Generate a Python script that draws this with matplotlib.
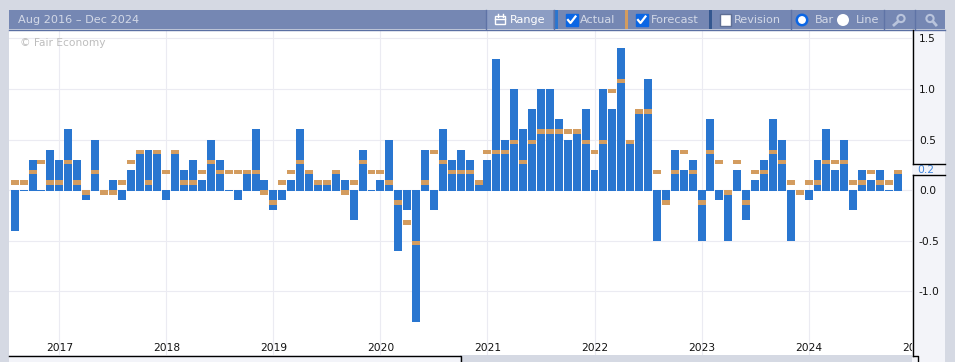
import numpy as np
import matplotlib
matplotlib.use('Agg')
import matplotlib.pyplot as plt
from matplotlib.patches import Rectangle, Circle

# monthly values, Aug 2016 to Nov 2024
actual = [-0.4, 0.0, 0.3, 0.0, 0.4,
          0.3, 0.6, 0.3, -0.1, 0.5, 0.0, 0.1, -0.1, 0.2, 0.4, 0.4, 0.4,
          -0.1, 0.4, 0.2, 0.3, 0.1, 0.5, 0.3, 0.0, -0.1, 0.2, 0.6, 0.1,
          -0.2, -0.1, 0.1, 0.6, 0.2, 0.1, 0.1, 0.2, 0.1, -0.3, 0.4, 0.0,
          0.1, 0.5, -0.6, -0.2, -1.3, 0.4, -0.2, 0.6, 0.3, 0.4, 0.3, 0.1,
          0.3, 1.3, 0.5, 1.0, 0.6, 0.8, 1.0, 1.0, 0.7, 0.5, 0.6, 0.8,
          0.2, 1.0, 0.8, 1.4, 0.5, 0.8, 1.1, -0.5, -0.1, 0.4, 0.2, 0.3,
          -0.5, 0.7, -0.1, -0.5, 0.2, -0.3, 0.1, 0.3, 0.7, 0.5, -0.5, 0.0,
          -0.1, 0.3, 0.6, 0.2, 0.5, -0.2, 0.2, 0.1, 0.2, 0.0, 0.2]
forecast = [0.1, 0.1, 0.2, 0.3, 0.1,
            0.1, 0.3, 0.1, 0.0, 0.2, 0.0, 0.0, 0.1, 0.3, 0.4, 0.1, 0.4,
            0.2, 0.4, 0.1, 0.1, 0.2, 0.3, 0.2, 0.2, 0.2, 0.2, 0.2, 0.0,
            -0.1, 0.1, 0.2, 0.3, 0.2, 0.1, 0.1, 0.2, 0.0, 0.1, 0.3, 0.2,
            0.2, 0.1, -0.1, -0.3, -0.5, 0.1, 0.4, 0.3, 0.2, 0.2, 0.2, 0.1,
            0.4, 0.4, 0.4, 0.5, 0.3, 0.5, 0.6, 0.6, 0.6, 0.6, 0.6, 0.5,
            0.4, 0.5, 1.0, 1.1, 0.5, 0.8, 0.8, 0.2, -0.1, 0.2, 0.4, 0.2,
            -0.1, 0.4, 0.3, 0.0, 0.3, -0.1, 0.2, 0.2, 0.4, 0.3, 0.1, 0.0,
            0.1, 0.1, 0.3, 0.3, 0.3, 0.1, 0.1, 0.2, 0.1, 0.1, 0.2]
years = ['2017', '2018', '2019', '2020', '2021', '2022', '2023', '2024']
yticks = [-1.0, -0.5, 0.0, 0.5, 1.0, 1.5]

BG = '#d5d9e3'
PANEL = '#f3f4f9'
HEAD = '#7587b3'
BLUE = '#2976d0'
ORANGE = '#d39c5f'
GRID = '#ebebf2'
HTEXT = '#d3d9e7'
W, H = 955, 362

actual = np.array(actual)
forecast = np.array(forecast)
idx = np.arange(len(actual))

fig = plt.figure(figsize=(W / 100, H / 100), dpi=100, facecolor=BG)

# everything around the plot is laid out in pixels
bg = fig.add_axes([0, 0, 1, 1], zorder=0)
bg.set_xlim(0, W)
bg.set_ylim(H, 0)
bg.axis('off')
bg.add_patch(Rectangle((912, 30), 33, H - 30, color=PANEL, lw=0))
bg.add_patch(Rectangle((9, 355), 451, 7, color=PANEL, lw=0))

# plot box: x 9..912, y 30..355
ax = fig.add_axes([9 / W, 1 - 355 / H, 903 / W, 325 / H], zorder=1)
ax.set_xlim((9 - 14.7) / 8.92, (912 - 14.7) / 8.92)
ax.set_ylim(-(355 - 190.1) / 101.2, (190.1 - 30) / 101.2)
for s in ax.spines.values():
    s.set_visible(False)
ax.set_axisbelow(True)
ax.grid(True, color=GRID, lw=0.8)

bottoms = np.where(actual >= 0, -0.012, 0.0)
ax.bar(idx, actual - bottoms, bottom=bottoms, width=0.89, color=BLUE, lw=0)
ax.bar(idx, 0.045, bottom=forecast - 0.045, width=0.89, color=ORANGE, lw=0)

year_pos = [5 + 12 * i for i in range(len(years))]
ax.set_xticks(year_pos, years)
ax.tick_params(axis='x', length=0, pad=-8.7, labelsize=7.7, labelcolor='#111111')
ax.yaxis.tick_right()
ax.set_yticks(yticks, ['%.1f' % v for v in yticks])
ax.tick_params(axis='y', length=0, pad=5, labelsize=7.7, labelcolor='#111111')
ax.text(101, -1.565, '2025', ha='center', va='center', fontsize=7.7, color='#111111', clip_on=True)
ax.text(20, 43, '© Fair Economy', transform=bg.transData, fontsize=7.7, color='#bdbdbd', va='center')
ax.text(1 + 5 / 903, actual[-1], '%.1f' % actual[-1], transform=ax.get_yaxis_transform(),
        fontsize=7.7, color='#3f86de', va='center', clip_on=False)

# header bar and frame
top = fig.add_axes([0, 0, 1, 1], zorder=2)
top.set_xlim(0, W)
top.set_ylim(H, 0)
top.axis('off')
top.patch.set_alpha(0)
top.add_patch(Rectangle((9, 10), 936, 19, color=HEAD, lw=0))
top.plot([9, 945], [29.5, 29.5], color='#5a6fa3', lw=1)
top.add_patch(Rectangle((486, 10), 67, 19, color='#8c9dc3', lw=0))
for x in [485.5, 553.5, 790.5, 883.5, 914.5]:
    top.plot([x, x], [10, 29], color='#5f73a6', lw=1)
top.add_patch(Rectangle((554, 10), 4, 19, color=BLUE, lw=0))
top.add_patch(Rectangle((625, 10), 3, 19, color=ORANGE, lw=0))
top.add_patch(Rectangle((709, 10), 3, 19, color='#34578f', lw=0))

head_kw = dict(fontsize=8.1, color=HTEXT, va='center')
top.text(18, 20, 'Aug 2016 – Dec 2024', **head_kw)
top.text(510, 20, 'Range', fontsize=8.1, color='white', va='center')
top.text(580, 20, 'Actual', **head_kw)
top.text(651, 20, 'Forecast', **head_kw)
top.text(734, 20, 'Revision', **head_kw)
top.text(815, 20, 'Bar', **head_kw)
top.text(856, 20, 'Line', **head_kw)

# calendar icon
top.add_patch(Rectangle((495, 16), 10, 8, fc='none', ec='white', lw=1))
top.plot([495, 505], [19, 19], color='white', lw=1)
top.plot([497.5, 497.5], [14, 17], color='white', lw=1)
top.plot([502.5, 502.5], [14, 17], color='white', lw=1)

# check boxes
for x in [565.5, 635.5]:
    top.add_patch(Rectangle((x, 14), 12, 12, fc='#0b66e4', ec='#0b66e4', lw=1))
    top.plot([x + 2.5, x + 5, x + 10], [20, 23, 16.5], color='white', lw=1.6)
top.add_patch(Rectangle((719.5, 14), 11.5, 12, fc='white', ec='#5f6f95', lw=1))

# radio buttons
top.add_patch(Circle((802, 20), 5.2, fc='white', ec='#0b66e4', lw=1.8))
top.add_patch(Circle((843, 20), 6, fc='white', ec='none'))

# zoom icons
top.add_patch(Circle((901, 18.5), 3.6, fc='none', ec='#b9c4dc', lw=1.5))
top.plot([898, 894], [21.5, 25], color='#b9c4dc', lw=2)
top.add_patch(Circle((930, 18.5), 3.6, fc='none', ec='#b9c4dc', lw=1.5))
top.plot([933, 936], [21.5, 25], color='#b9c4dc', lw=2)

# black frame lines
top.plot([912.5, 912.5], [30, 164], color='black', lw=1)
top.plot([912.5, 912.5], [175, 355.5], color='black', lw=1)
top.plot([912.5, 945], [164, 164], color='black', lw=1)
top.plot([912.5, 945], [175, 175], color='black', lw=1)
top.plot([9, 460.5, 460.5], [355.5, 355.5, 362], color='black', lw=1)
top.plot([912.5, 917.5, 917.5], [355.5, 355.5, 361], color='black', lw=1)

fig.savefig('out.png', dpi=100, facecolor=BG)
